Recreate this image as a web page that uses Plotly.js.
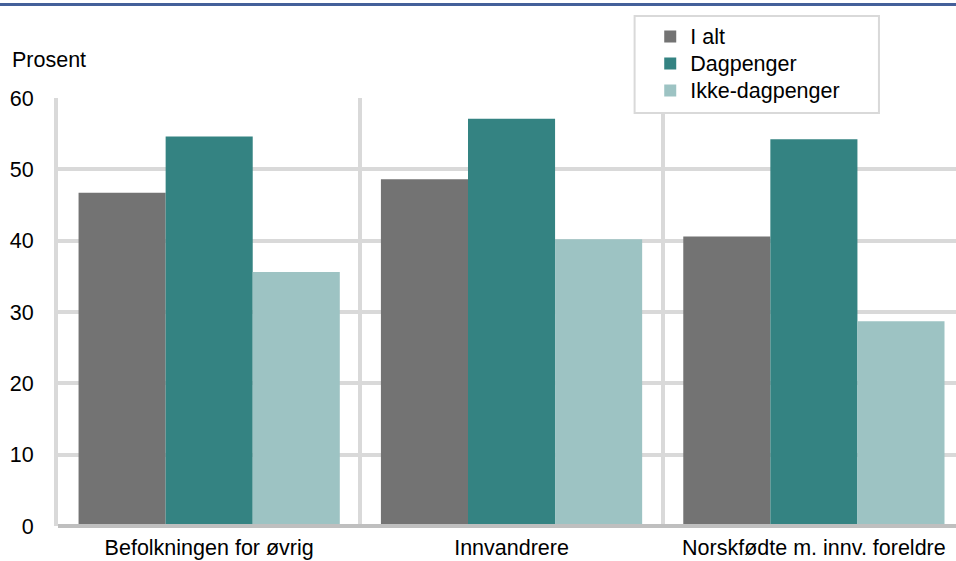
<!DOCTYPE html>
<html><head><meta charset="utf-8">
<script src="https://cdn.plot.ly/plotly-3.0.1.min.js"></script>
<style>html,body{margin:0;padding:0;background:#fff}#chart{width:956px;height:561px}</style>
</head><body><div id="chart"></div>
<script>
const categories = ["Befolkningen for øvrig", "Innvandrere", "Norskfødte m. innv. foreldre"];
const seriesNames = ["I alt", "Dagpenger", "Ikke-dagpenger"];
const iAlt = [46.7, 48.6, 40.6];
const dagpenger = [54.6, 57.1, 54.2];
const ikkeDagpenger = [35.6, 40.2, 28.7];
const yTicks = [0, 10, 20, 30, 40, 50, 60];

const font = {family: "Liberation Sans, Arial, sans-serif", size: 21.5, color: "#000"};
const legendName = n => '<span style="font-size:21.5px">' + n + '</span>';
const traces = [
  {type: "bar", name: legendName(seriesNames[0]), x: categories, y: iAlt, marker: {color: "#737373"}},
  {type: "bar", name: legendName(seriesNames[1]), x: categories, y: dagpenger, marker: {color: "#348382"}},
  {type: "bar", name: legendName(seriesNames[2]), x: categories, y: ikkeDagpenger, marker: {color: "#9dc3c3"}}
];
const layout = {
  width: 956, height: 561,
  margin: {l: 58, r: 0, t: 98, b: 35},
  paper_bgcolor: "#fff", plot_bgcolor: "#fff",
  font: font,
  barmode: "group", bargap: 0.136, bargroupgap: 0,
  showlegend: true,
  legend: {x: 0.6595, y: 1.187, xanchor: "left", yanchor: "top", bgcolor: "rgba(0,0,0,0)",
           borderwidth: 0, font: {family: font.family, size: 18.5, color: "#000"}, tracegroupgap: 0,
           itemwidth: 30, traceorder: "normal"},
  xaxis: {type: "category", range: [-0.5, 2.47], tickson: "boundaries", showgrid: true, gridcolor: "#d9d9d9", gridwidth: 4,
          ticks: "", showline: false, zeroline: false, tickfont: font, ticklabelstandoff: 6, automargin: false},
  yaxis: {range: [0, 60], tickvals: yTicks, showgrid: true, gridcolor: "#d9d9d9", gridwidth: 4,
          zeroline: false, showline: true, linecolor: "#d9d9d9", linewidth: 4, ticks: "",
          tickfont: font, ticklabelstandoff: 16, automargin: false},
  shapes: [
    {type: "line", xref: "paper", yref: "paper", x0: 0, x1: 1, y0: 0, y1: 0,
     line: {color: "#bfbfbf", width: 4}},
    {type: "line", xref: "paper", yref: "paper", x0: -0.0647, x1: 1.001, y0: 1.2185, y1: 1.2185,
     line: {color: "#44609a", width: 3}},
    {type: "rect", xref: "paper", yref: "paper", x0: 0.6421, x1: 0.9142, y0: 0.965, y1: 1.1916,
     layer: "above", fillcolor: "#fff", line: {color: "#d9d9d9", width: 2}}
  ],
  annotations: [
    {text: "Prosent", xref: "paper", yref: "paper", x: -0.0535, y: 1.089, xanchor: "left", yanchor: "middle",
     showarrow: false, font: font}
  ]
};
Plotly.newPlot("chart", traces, layout, {displayModeBar: false, staticPlot: true});
</script></body></html>
